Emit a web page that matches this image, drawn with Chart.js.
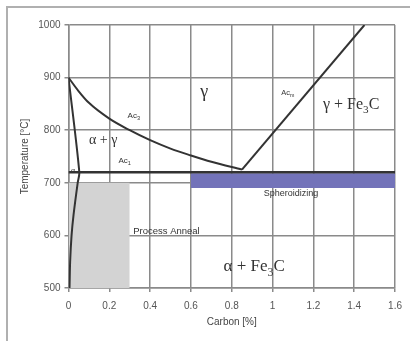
<!DOCTYPE html>
<html>
<head>
<meta charset="utf-8">
<script src="https://cdn.jsdelivr.net/npm/chart.js@4"></script>
<style>
  html, body { margin: 0; padding: 0; background: #fff; }
  #wrap { position: relative; width: 410px; height: 341px; overflow: hidden; }
  #frame { position: absolute; left: 6px; top: 6px; width: 420px; height: 350px;
           border-left: 2px solid #b0b0b0; border-top: 2px solid #b0b0b0; }
  #c { position: absolute; left: 0; top: 0; }
</style>
</head>
<body>
<div id="wrap">
  <div id="frame"></div>
  <canvas id="c" width="410" height="341"></canvas>
</div>
<script>
// eje x: carbono [%], eje y: temperatura [°C]
const xTicks = [0, 0.2, 0.4, 0.6, 0.8, 1, 1.2, 1.4, 1.6];
const yTicks = [500, 600, 700, 800, 900, 1000];

// linea A3 (gamma / alfa+gamma)
const a3Carbon = [0, 0.05, 0.1, 0.2, 0.3, 0.4, 0.5, 0.6, 0.7, 0.85];
const a3Temp = [900, 874, 852, 822, 800, 781, 765, 752, 740, 725];

// linea Acm
const acmCarbon = [0.85, 1.45];
const acmTemp = [725, 1000];

// linea A1
const a1Carbon = [0, 1.6];
const a1Temp = [720, 720];

// limite alfa (arriba y abajo de A1)
const alphaCarbon = [0, 0.053, 0.045, 0.025, 0.015, 0.008, 0.005];
const alphaTemp = [900, 720, 700, 640, 600, 550, 500];

// zonas de tratamiento
const annealCarbon = [0, 0.3];
const annealTop = 700;
const spheroCarbon = [0.6, 1.6];
const spheroTop = 718;
const spheroBottom = 690;

const pts = (xs, ys) => xs.map((x, i) => ({ x: x, y: ys[i] }));

// textos sobre el diagrama (x en %, y en °C)
const notes = [
  { parts: [["γ", 0]], x: 0.665, y: 873, size: 18, serif: true },
  { parts: [["Ac", 0], ["3", 1]], x: 0.32, y: 827, size: 8 },
  { parts: [["α + γ", 0]], x: 0.17, y: 780, size: 14, serif: true },
  { parts: [["Ac", 0], ["1", 1]], x: 0.275, y: 742, size: 8 },
  { parts: [["α", 0]], x: 0.022, y: 722, size: 8, serif: true },
  { parts: [["Ac", 0], ["m", 1]], x: 1.075, y: 870, size: 7.5 },
  { parts: [["γ + Fe", 0], ["3", 1], ["C", 0]], x: 1.385, y: 849, size: 16, serif: true },
  { parts: [["Spheroidizing", 0]], x: 1.09, y: 679, size: 9 },
  { parts: [["Process Anneal", 0]], x: 0.48, y: 607, size: 9.5 },
  { parts: [["α + Fe", 0], ["3", 1], ["C", 0]], x: 0.91, y: 540, size: 17, serif: true }
];

const notesPlugin = {
  id: "notes",
  afterDatasetsDraw(chart) {
    const ctx = chart.ctx;
    const sx = chart.scales.x, sy = chart.scales.y;
    ctx.save();
    ctx.fillStyle = "#333";
    ctx.textBaseline = "middle";
    ctx.textAlign = "left";
    notes.forEach((n) => {
      const fam = n.serif ? "'Liberation Serif', serif" : "'Liberation Sans', Arial, sans-serif";
      const fontFor = (sub) => (sub ? n.size * 0.7 : n.size) + "px " + fam;
      let w = 0;
      n.parts.forEach((p) => { ctx.font = fontFor(p[1]); w += ctx.measureText(p[0]).width; });
      let px = sx.getPixelForValue(n.x) - w / 2;
      const py = sy.getPixelForValue(n.y);
      n.parts.forEach((p) => {
        ctx.font = fontFor(p[1]);
        ctx.fillText(p[0], px, p[1] ? py + n.size * 0.35 : py);
        px += ctx.measureText(p[0]).width;
      });
    });
    ctx.restore();
  }
};

const lineColor = "#333";
const gridColor = "#8a8a8a";
const tickFont = { family: "'Liberation Sans', Arial, sans-serif", size: 10 };

new Chart(document.getElementById("c").getContext("2d"), {
  type: "scatter",
  data: {
    datasets: [
      {
        data: pts(annealCarbon, [annealTop, annealTop]), order: 10,
        showLine: true, borderWidth: 0, pointRadius: 0,
        fill: "start", backgroundColor: "#d3d3d3", borderColor: "rgba(0,0,0,0)"
      },
      {
        data: pts(spheroCarbon, [spheroTop, spheroTop]), order: 10,
        showLine: true, borderWidth: 0, pointRadius: 0,
        fill: { value: spheroBottom }, backgroundColor: "#7373b9", borderColor: "rgba(0,0,0,0)"
      },
      {
        data: pts(a3Carbon, a3Temp), order: 1,
        showLine: true, tension: 0.4, cubicInterpolationMode: "monotone",
        borderColor: lineColor, borderWidth: 2, pointRadius: 0
      },
      {
        data: pts(acmCarbon, acmTemp), order: 1,
        showLine: true, borderColor: lineColor, borderWidth: 2, pointRadius: 0
      },
      {
        data: pts(a1Carbon, a1Temp), order: 1,
        showLine: true, borderColor: lineColor, borderWidth: 2.5, pointRadius: 0
      },
      {
        data: pts(alphaCarbon, alphaTemp), order: 1,
        showLine: true, tension: 0.3, borderColor: lineColor, borderWidth: 2, pointRadius: 0
      }
    ]
  },
  options: {
    responsive: false,
    animation: false,
    layout: { padding: { left: 0, right: 11, top: 25, bottom: 0 } },
    plugins: { legend: { display: false }, tooltip: { enabled: false } },
    scales: {
      x: {
        type: "linear", min: 0, max: 1.6,
        afterBuildTicks: (s) => { s.ticks = xTicks.map((v) => ({ value: v })); },
        afterFit: (s) => { s.height = 53; },
        ticks: { color: "#555", font: tickFont, padding: 8, maxRotation: 0,
                 callback: (v) => String(v) },
        grid: { color: gridColor, lineWidth: 1.5, tickLength: 4, tickColor: gridColor },
        border: { color: gridColor, width: 1.5 },
        title: { display: true, text: "Carbon [%]", color: "#444", font: tickFont,
                 padding: { top: 0, bottom: 13 } }
      },
      y: {
        type: "linear", min: 500, max: 1000,
        afterBuildTicks: (s) => { s.ticks = yTicks.map((v) => ({ value: v })); },
        afterFit: (s) => { s.width = 68.5; },
        ticks: { color: "#555", font: tickFont, padding: 4, callback: (v) => String(v) },
        grid: { color: gridColor, lineWidth: 1.5, tickLength: 4, tickColor: gridColor },
        border: { color: gridColor, width: 1.5 },
        title: { display: true, text: "Temperature [°C]", color: "#444", font: tickFont,
                 padding: { top: 19, bottom: 0 } }
      }
    }
  },
  plugins: [notesPlugin]
});
</script>
</body>
</html>
